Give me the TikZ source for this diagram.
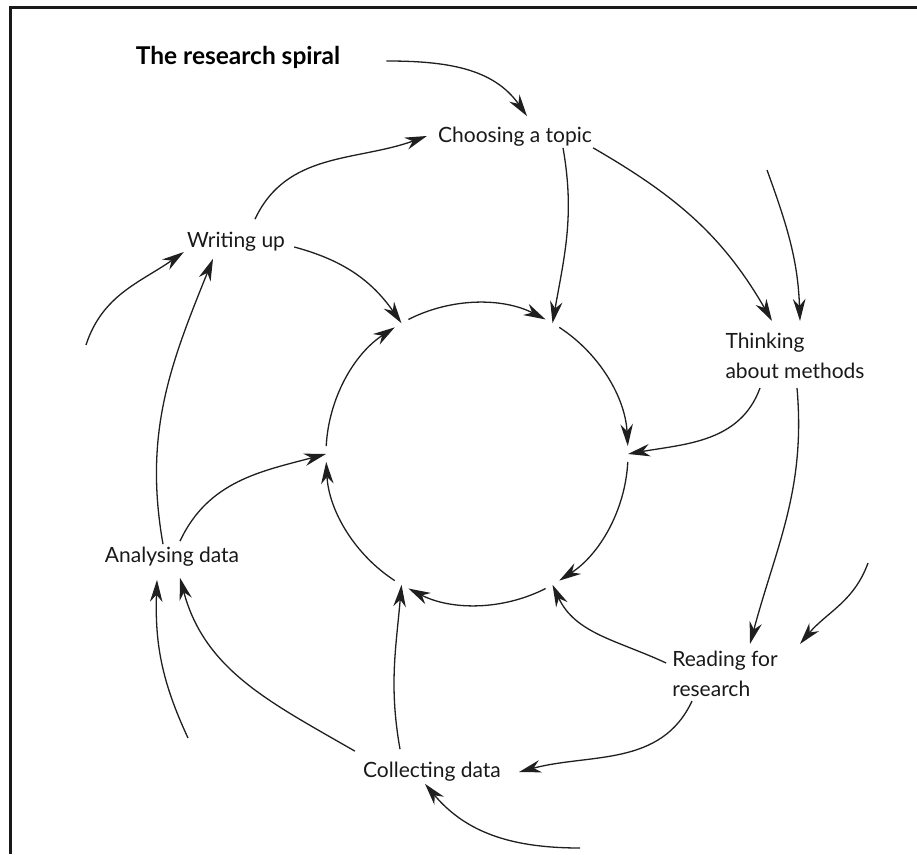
\documentclass[tikz,border=0pt]{standalone}
\usepackage{fontspec}
\setmainfont{Lato}
\usetikzlibrary{arrows.meta,calc}
\begin{document}
\begin{tikzpicture}[x=1pt,y=1pt,
  arr/.style={line width=1.3pt, draw=black!88, -{Stealth[length=22pt,width=12.5pt,inset=7pt]}},
  lbl/.style={font=\fontsize{21}{30}\selectfont, inner sep=1pt, align=left, text=black!90},
  frame/.style={line width=3pt, draw=black!90}]
\useasboundingbox (0,0) rectangle (917,854);
% frame
\draw[frame] (10,0) -- (10,846) -- (917,846);
% labels
\node[font=\bfseries\fontsize{24.5}{28}\selectfont, inner sep=2pt] (title) at (238,797) {The research spiral};
\node[lbl] (choose)  at (515,717) {Choosing a topic};
\node[lbl] (write)   at (236,612) {Writing up};
\node[lbl] (think)   at (795,498) {Thinking\\about methods};
\node[lbl] (analyse) at (172,297) {Analysing data};
\node[lbl] (read)    at (725,180) {Reading for\\research};
\node[lbl] (collect) at (432,82)  {Collecting data};
% inner circle
\coordinate (C) at (477,400);
\foreach \a in {0,60,120,180,240,300}{
  \coordinate (g\a) at ($(C)+(\a:151)$);
  \draw[arr] ($(C)+(\a-3:151)$) arc[start angle=\a-3, end angle=\a-57, radius=151];
}
% free ends
\coordinate (f1) at (767,684);
\coordinate (f2) at (868,291);
\coordinate (f3) at (580,6);
\coordinate (f4) at (188,116);
\coordinate (f5) at (86,509);
% connectors
\draw[arr] ($(title.east)+(44,-4)$) to[out=0,in=125] ($(choose.north)+(12,10)$);
\draw[arr] ($(write.north)+(19,12)$) to[out=65,in=200] ($(choose.west)+(-10,1)$);
\draw[arr] ($(choose.south)+(48,0)$) to[out=-80,in=80] (g60);
\draw[arr] (choose.south east) to[out=-30,in=120] ($(think.north)+(-23,11)$);
\draw[arr] (f1) to[out=-70,in=92] ($(think.north)+(5,11)$);
\draw[arr] ($(write.east)+(8,-5)$) to[out=-15,in=125] (g120);
\draw[arr] ($(think.south)+(-35,-8)$) to[out=-110,in=10] (g0);
\draw[arr] ($(think.south)+(2,-8)$) to[out=-85,in=75] ($(read.north)+(25,6)$);
\draw[arr] (f2) to[out=-110,in=50] ($(read.north)+(75,6)$);
\draw[arr] ($(read.west)+(-5,11)$) to[out=155,in=-65] (g300);
\draw[arr] ($(read.south)+(-33,-3)$) to[out=-115,in=15] ($(collect.east)+(17,0)$);
\draw[arr] (f3) to[out=180,in=-50] ($(collect.south)+(-7,-1)$);
\draw[arr] ($(collect.north)+(-32,12)$) to[out=100,in=-95] (g240);
\draw[arr] ($(collect.north west)+(-7,10)$) to[out=150,in=-75] ($(analyse.south)+(8,-10)$);
\draw[arr] (f4) to[out=115,in=-92] ($(analyse.south)+(-15,-12)$);
\draw[arr] ($(analyse.north)+(8,5)$) to[out=65,in=195] (g180);
\draw[arr] ($(analyse.north)+(-9,2)$) to[out=100,in=-112] ($(write.south)+(-23,-6)$);
\draw[arr] (f5) to[out=72,in=-145] ($(write.west)+(-2,-10)$);
\end{tikzpicture}
\end{document}
